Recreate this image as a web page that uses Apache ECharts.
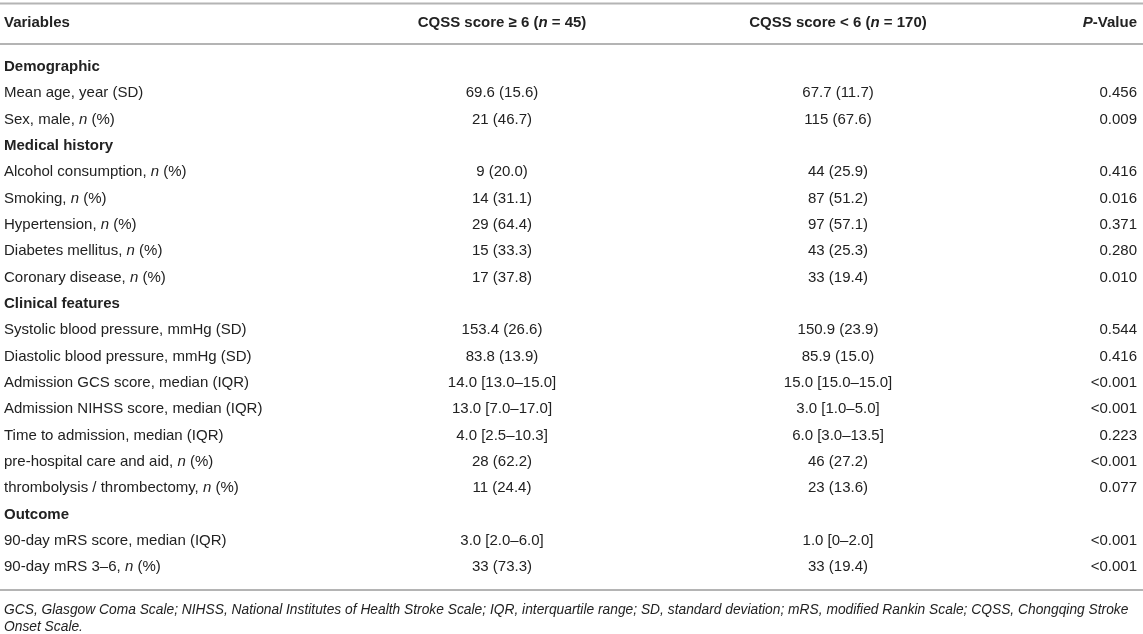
<!DOCTYPE html>
<html>
<head>
<meta charset="utf-8">
<script src="https://cdn.jsdelivr.net/npm/echarts@6/dist/echarts.min.js"></script>
<style>
  html, body { margin: 0; padding: 0; background: #fff; }
  #main { width: 1143px; height: 634px; }
</style>
</head>
<body>
<div id="main"></div>
<script>
// table content ({i|n} marks the italic "n")
const headers = ['Variables', 'CQSS score \u2265 6 ({bi|n} = 45)', 'CQSS score < 6 ({bi|n} = 170)', '{bi|P}-Value'];

const variables = [
    'Demographic',
    'Mean age, year (SD)',
    'Sex, male, {i|n} (%)',
    'Medical history',
    'Alcohol consumption, {i|n} (%)',
    'Smoking, {i|n} (%)',
    'Hypertension, {i|n} (%)',
    'Diabetes mellitus, {i|n} (%)',
    'Coronary disease, {i|n} (%)',
    'Clinical features',
    'Systolic blood pressure, mmHg (SD)',
    'Diastolic blood pressure, mmHg (SD)',
    'Admission GCS score, median (IQR)',
    'Admission NIHSS score, median (IQR)',
    'Time to admission, median (IQR)',
    'pre-hospital care and aid, {i|n} (%)',
    'thrombolysis / thrombectomy, {i|n} (%)',
    'Outcome',
    '90-day mRS score, median (IQR)',
    '90-day mRS 3\u20136, {i|n} (%)'
];

const sections = ['Demographic', 'Medical history', 'Clinical features', 'Outcome'];

const scoreHigh = [
    '', '69.6 (15.6)', '21 (46.7)',
    '', '9 (20.0)', '14 (31.1)', '29 (64.4)', '15 (33.3)', '17 (37.8)',
    '', '153.4 (26.6)', '83.8 (13.9)', '14.0 [13.0\u201315.0]', '13.0 [7.0\u201317.0]',
    '4.0 [2.5\u201310.3]', '28 (62.2)', '11 (24.4)',
    '', '3.0 [2.0\u20136.0]', '33 (73.3)'
];

const scoreLow = [
    '', '67.7 (11.7)', '115 (67.6)',
    '', '44 (25.9)', '87 (51.2)', '97 (57.1)', '43 (25.3)', '33 (19.4)',
    '', '150.9 (23.9)', '85.9 (15.0)', '15.0 [15.0\u201315.0]', '3.0 [1.0\u20135.0]',
    '6.0 [3.0\u201313.5]', '46 (27.2)', '23 (13.6)',
    '', '1.0 [0\u20132.0]', '33 (19.4)'
];

const pValues = [
    '', '0.456', '0.009',
    '', '0.416', '0.016', '0.371', '0.280', '0.010',
    '', '0.544', '0.416', '<0.001', '<0.001', '0.223', '<0.001', '0.077',
    '', '<0.001', '<0.001'
];

const footnotes = [
    'GCS, Glasgow Coma Scale; NIHSS, National Institutes of Health Stroke Scale; IQR, interquartile range; SD, standard deviation; mRS, modified Rankin Scale; CQSS, Chongqing Stroke',
    'Onset Scale.'
];

const FONT = '"Liberation Sans", Arial, Helvetica, sans-serif';
const INK = '#222';
const RULE = '#b4b4b4';
// column anchors in x-axis units (axis spans the page width)
const COL_X = [4, 502, 838, 1137];

function textStyle(text, align, bold, size, italic) {
    const weight = bold ? 'bold' : 'normal';
    const slant = italic ? 'italic' : 'normal';
    const lh = 18;
    return {
        text: text,
        fill: INK,
        fontFamily: FONT,
        fontSize: size,
        fontWeight: weight,
        fontStyle: slant,
        lineHeight: lh,
        align: align,
        verticalAlign: 'middle',
        textAlign: align,
        textVerticalAlign: 'middle',
        rich: {
            i: { fontFamily: FONT, fontSize: size, fontStyle: 'italic', fontWeight: weight, fill: INK, lineHeight: lh },
            bi: { fontFamily: FONT, fontSize: size, fontStyle: 'italic', fontWeight: 'bold', fill: INK, lineHeight: lh }
        }
    };
}

function cell(api, col, row, text, align, bold) {
    const p = api.coord([COL_X[col], row]);
    return { type: 'text', x: p[0], y: Math.round(p[1]), style: textStyle(text, align, bold, 15, false) };
}

const chart = echarts.init(document.getElementById('main'), null, { renderer: 'canvas' });

const rule = (y) => ({
    type: 'line',
    shape: { x1: 0, y1: y, x2: 1143, y2: y },
    style: { stroke: RULE, lineWidth: 2 },
    silent: true
});

const headerAligns = ['left', 'center', 'center', 'right'];

chart.setOption({
    animation: false,
    backgroundColor: '#fff',
    grid: { left: 0, right: 0, top: 53.8, bottom: 53.4 },
    xAxis: { type: 'value', min: 0, max: 1143, show: false },
    yAxis: {
        type: 'category',
        data: variables.map((v, i) => i),
        inverse: true,
        show: false
    },
    graphic: [
        rule(3.5),
        rule(44),
        rule(590),
        ...headers.map((h, k) => ({
            type: 'text',
            x: COL_X[k],
            y: 23,
            style: textStyle(h, headerAligns[k], true, 15, false),
            silent: true
        })),
        ...footnotes.map((f, k) => ({
            type: 'text',
            x: COL_X[0],
            y: 610 + k * 17,
            scaleX: 0.985,
            style: textStyle(f, 'left', false, 14, true),
            silent: true
        }))
    ],
    series: [{
        type: 'custom',
        coordinateSystem: 'cartesian2d',
        silent: true,
        encode: { x: 0, y: 1 },
        data: variables.map((v, i) => [0, i]),
        renderItem: function (params, api) {
            const row = api.value(1);
            const isSection = sections.indexOf(variables[row]) >= 0;
            const children = [cell(api, 0, row, variables[row], 'left', isSection)];
            if (scoreHigh[row]) children.push(cell(api, 1, row, scoreHigh[row], 'center', false));
            if (scoreLow[row]) children.push(cell(api, 2, row, scoreLow[row], 'center', false));
            if (pValues[row]) children.push(cell(api, 3, row, pValues[row], 'right', false));
            return { type: 'group', children: children };
        }
    }]
});
</script>
</body>
</html>
